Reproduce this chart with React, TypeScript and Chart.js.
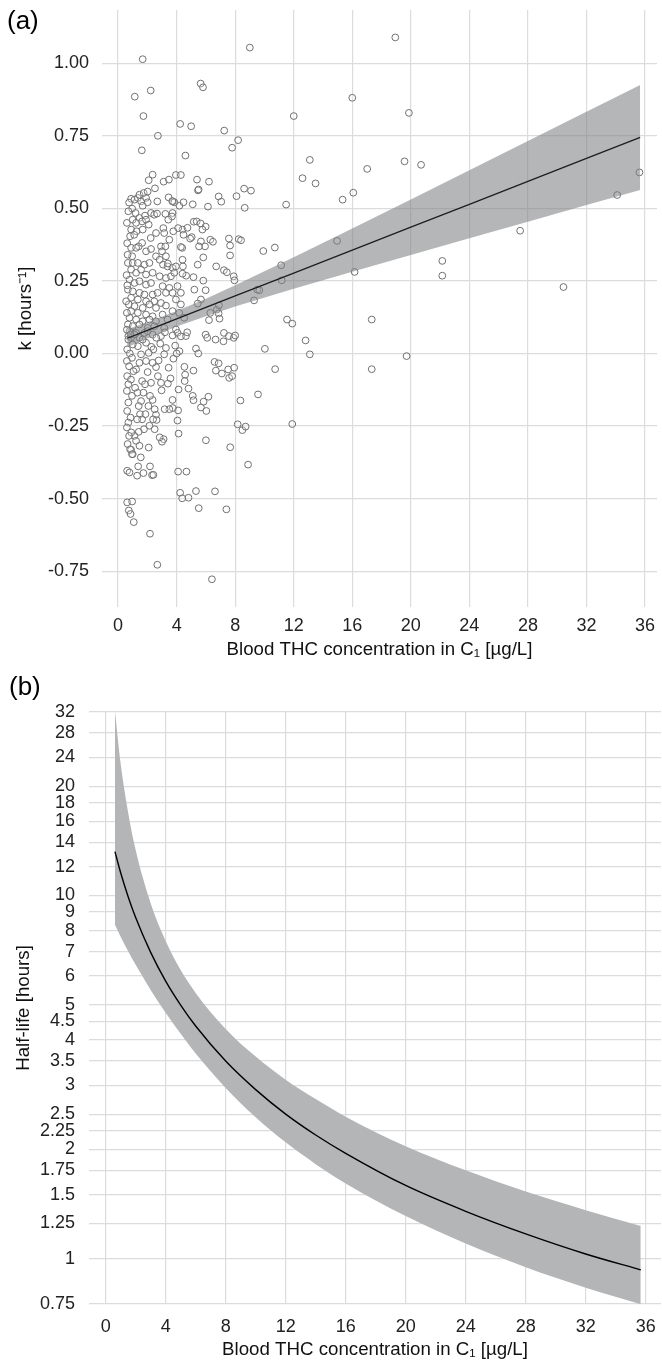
import React, { useEffect, useRef } from 'react';
import { Chart, registerables } from 'chart.js';

Chart.register(...registerables);

const FONT = "'Liberation Sans', Arial, Helvetica, sans-serif";

// ---------- shared axis ticks ----------
const xTicks = [0, 4, 8, 12, 16, 20, 24, 28, 32, 36];
const kTicks = [-0.75, -0.5, -0.25, 0, 0.25, 0.5, 0.75, 1.0];
const hlTicks = [0.75, 1, 1.25, 1.5, 1.75, 2, 2.25, 2.5, 3, 3.5, 4, 4.5, 5, 6, 7, 8, 9, 10, 12, 14, 16, 18, 20, 24, 28, 32];

// ---------- panel (a): observed k values [x, k] ----------
const kPoints: [number, number][] = [
  [18.94, 1.089], [16.0, 0.881], [19.87, 0.829], [17.02, 0.636], [19.57, 0.662], [20.7, 0.65], [16.07, 0.554],
  [15.34, 0.53], [14.96, 0.388], [16.16, 0.281], [22.15, 0.319], [22.15, 0.268], [27.47, 0.423], [30.43, 0.229],
  [34.1, 0.546], [35.62, 0.624], [17.33, 0.117], [17.33, -0.054], [19.71, -0.009],
  [1.68, 1.014], [9.0, 1.054], [1.14, 0.885], [2.23, 0.906], [1.73, 0.818], [5.64, 0.93], [5.8, 0.917], [12.0, 0.818],
  [2.72, 0.75], [1.62, 0.7], [4.24, 0.791], [4.99, 0.783], [7.25, 0.768], [8.2, 0.735], [7.79, 0.709], [4.6, 0.682],
  [13.1, 0.667], [12.6, 0.604], [13.49, 0.586], [11.48, 0.513], [2.36, 0.616], [2.09, 0.597], [2.52, 0.569],
  [3.11, 0.592], [3.47, 0.599], [3.95, 0.615], [4.29, 0.615], [5.39, 0.599], [6.21, 0.592], [5.46, 0.562],
  [5.5, 0.565], [6.87, 0.541], [7.05, 0.523], [8.09, 0.542], [8.61, 0.568], [9.08, 0.561], [8.65, 0.502],
  [6.14, 0.506], [3.45, 0.538], [3.74, 0.524], [4.19, 0.509], [4.47, 0.521], [5.1, 0.514], [9.92, 0.353],
  [10.71, 0.365], [11.14, 0.304], [11.18, 0.252], [9.29, 0.183], [9.51, 0.22], [9.65, 0.218], [7.9, 0.266],
  [7.95, 0.252], [7.57, 0.396], [7.65, 0.372], [7.65, 0.338], [8.24, 0.394], [8.4, 0.39], [6.7, 0.3], [7.23, 0.287],
  [7.43, 0.28], [11.54, 0.117], [11.9, 0.103], [6.3, 0.392], [6.48, 0.385], [5.17, 0.454], [5.37, 0.455],
  [5.64, 0.448], [5.98, 0.437], [5.76, 0.427], [5.66, 0.386], [5.94, 0.369], [5.53, 0.369], [5.82, 0.331],
  [5.44, 0.306], [5.15, 0.263], [5.82, 0.251], [5.03, 0.401], [4.4, 0.427], [4.1, 0.432], [4.74, 0.433],
  [4.47, 0.409], [4.38, 0.364], [4.4, 0.323], [4.43, 0.3], [4.65, 0.268], [5.21, 0.22], [5.98, 0.218],
  [5.66, 0.186], [5.44, 0.172], [6.3, 0.14], [6.75, 0.151], [6.87, 0.138], [6.89, 0.166], [6.93, 0.12],
  [6.21, 0.115], [3.77, 0.421], [3.72, 0.484], [3.68, 0.472], [3.84, 0.521], [3.7, 0.525],
  [0.89, 0.533], [1.12, 0.53], [1.35, 0.536], [1.57, 0.524], [1.91, 0.536], [0.96, 0.499], [1.68, 0.509],
  [2.02, 0.521], [2.68, 0.524], [1.19, 0.484], [1.46, 0.467], [1.84, 0.475], [2.25, 0.484], [2.47, 0.478],
  [1.0, 0.461], [1.23, 0.45], [1.64, 0.455], [1.91, 0.461], [2.09, 0.444], [0.89, 0.427], [1.26, 0.421],
  [1.68, 0.427], [0.82, 0.404], [1.1, 0.409], [2.23, 0.398], [2.59, 0.415], [1.41, 0.369], [1.64, 0.381],
  [0.89, 0.364], [1.23, 0.364], [1.91, 0.352], [2.25, 0.36], [2.93, 0.369], [2.59, 0.335], [0.96, 0.335],
  [0.67, 0.312], [1.0, 0.312], [1.35, 0.312], [1.8, 0.306], [2.14, 0.312], [2.84, 0.323], [3.07, 0.306],
  [3.38, 0.3], [3.72, 0.295], [3.95, 0.3], [0.89, 0.289], [1.23, 0.278], [1.57, 0.289], [1.91, 0.272],
  [2.36, 0.278], [2.84, 0.266], [3.27, 0.26], [3.61, 0.266], [3.84, 0.278], [4.4, 0.275], [0.78, 0.255],
  [1.12, 0.243], [1.46, 0.249], [1.91, 0.237], [2.25, 0.243], [3.04, 0.232], [3.5, 0.226], [4.06, 0.232],
  [0.67, 0.22], [1.0, 0.214], [1.46, 0.209], [1.8, 0.203], [2.36, 0.203], [2.7, 0.209], [3.27, 0.209],
  [3.72, 0.209], [4.29, 0.209], [0.89, 0.192], [1.35, 0.186], [1.91, 0.18], [2.47, 0.18], [2.93, 0.174],
  [3.95, 0.186], [0.73, 0.169], [1.12, 0.163], [1.68, 0.157], [2.14, 0.169], [2.59, 0.157], [3.27, 0.165],
  [4.29, 0.169], [0.89, 0.146], [1.35, 0.14], [1.91, 0.134], [2.36, 0.128], [3.04, 0.134], [3.72, 0.146],
  [4.17, 0.14], [0.78, 0.123], [1.23, 0.117], [1.68, 0.111], [2.14, 0.117], [2.59, 0.111], [3.38, 0.117],
  [4.51, 0.123], [0.67, 0.1], [1.0, 0.094], [1.46, 0.1], [2.02, 0.088], [2.47, 0.094], [3.15, 0.088],
  [3.95, 0.083], [0.78, 0.077], [1.23, 0.071], [1.8, 0.071], [2.36, 0.065], [2.93, 0.06], [0.89, 0.054],
  [1.46, 0.054], [4.63, 0.06], [4.06, 0.071], [5.98, 0.065], [7.23, 0.071], [7.57, 0.06], [7.9, 0.054],
  [6.66, 0.048], [2.66, 0.482], [3.23, 0.481], [3.43, 0.461], [3.09, 0.432], [3.15, 0.415], [3.5, 0.392],
  [3.23, 0.369], [3.0, 0.352], [3.27, 0.335], [3.4, 0.31], [4.29, 0.367], [4.92, 0.396], [1.46, 0.547],
  [1.75, 0.553], [2.02, 0.558],
  [0.6, 0.45], [0.62, 0.38], [0.58, 0.27], [0.55, 0.18], [0.6, 0.14], [0.7, 0.06], [0.63, 0.235], [0.65, 0.34],
  [0.7, 0.49], [0.75, 0.52],
  [4.1, -0.407], [4.67, -0.407], [4.24, -0.48], [4.38, -0.499], [4.81, -0.497], [5.32, -0.474], [5.51, -0.533],
  [6.62, -0.475], [7.4, -0.537], [6.41, -0.778], [2.68, -0.728], [2.18, -0.621], [1.07, -0.581], [0.62, -0.513],
  [0.96, -0.51], [0.73, -0.541], [0.85, -0.553], [0.62, -0.404], [0.78, -0.41], [1.3, -0.421], [1.37, -0.389],
  [1.73, -0.412], [2.18, -0.389], [2.32, -0.419], [2.41, -0.418], [2.09, -0.324], [1.55, -0.358], [1.0, -0.347],
  [0.89, -0.332], [6.0, -0.299], [7.66, -0.323], [8.88, -0.383], [8.17, -0.244], [8.49, -0.264], [8.71, -0.252],
  [11.9, -0.243], [9.56, -0.141], [8.36, -0.162], [4.13, -0.276], [4.06, -0.231], [4.1, -0.196], [4.13, -0.124],
  [4.53, -0.046], [4.58, -0.073], [4.55, -0.095], [4.81, -0.121], [5.15, -0.059], [5.1, -0.146], [5.15, -0.161],
  [5.66, -0.186], [5.84, -0.166], [6.03, -0.198], [6.17, -0.149], [5.32, 0.017], [5.48, 0.0], [6.09, 0.054],
  [6.59, -0.029], [6.87, -0.034], [6.68, -0.059], [7.09, -0.069], [7.52, -0.055], [7.59, -0.084], [7.79, -0.078],
  [7.93, -0.049], [7.2, 0.042], [8.0, 0.062], [10.03, 0.016], [10.73, -0.054], [12.81, 0.045], [13.1, -0.003],
  [3.9, 0.027], [3.72, 0.062], [4.29, 0.059], [4.72, 0.073], [4.19, 0.008], [4.0, 0.0], [3.78, -0.018],
  [3.45, -0.049], [3.58, -0.086], [3.4, -0.104], [3.72, -0.16], [3.74, -0.188], [3.5, -0.192], [3.18, -0.192],
  [3.11, -0.295], [3.0, -0.304], [2.84, -0.289], [2.63, -0.229], [2.59, -0.211], [2.5, -0.192], [2.36, -0.16],
  [2.18, -0.146], [2.97, -0.127], [2.93, -0.101], [2.72, -0.078], [2.59, -0.047], [2.77, -0.024], [3.15, -0.003],
  [3.27, 0.019], [2.88, 0.034], [2.61, 0.054], [3.2, 0.073], [2.27, 0.023], [1.91, 0.037], [1.91, -0.026],
  [2.02, -0.064], [1.64, -0.095], [1.84, -0.106], [1.73, -0.135], [1.57, -0.164], [1.41, -0.181], [1.5, -0.209],
  [1.64, -0.227], [1.3, -0.227], [1.77, -0.261], [1.41, -0.27], [1.12, -0.284], [1.46, -0.318], [1.23, -0.301],
  [1.32, -0.135], [1.16, -0.118], [1.23, -0.055], [1.46, -0.032], [1.57, -0.003], [1.35, 0.025], [1.68, 0.048],
  [1.12, 0.065], [2.02, 0.077], [2.41, 0.014], [2.09, 0.002], [2.36, -0.032], [2.25, -0.101], [2.07, -0.181],
  [1.87, -0.209], [2.39, -0.227], [2.14, -0.249], [2.5, -0.261],
  [0.6, 0.082], [0.85, 0.065], [0.7, 0.048], [1.0, 0.031], [0.62, 0.014], [0.8, 0.0], [0.95, -0.015], [0.6, -0.026],
  [0.75, -0.044], [1.05, -0.061], [0.62, -0.078], [0.88, -0.09], [0.7, -0.106], [0.6, -0.129], [0.95, -0.146],
  [0.7, -0.169], [0.62, -0.198], [0.85, -0.221], [0.7, -0.238], [0.6, -0.255], [0.9, -0.272], [0.75, -0.284],
  [0.65, -0.312], [0.82, -0.33], [0.95, -0.347],
];

// ---------- panel (a): regression line and confidence band ----------
const fitX = [0.62, 2, 4, 6, 8, 12, 16, 20, 24, 28, 32, 35.67];
const kFit = [0.0525, 0.0798, 0.1193, 0.1587, 0.1982, 0.2772, 0.3561, 0.4351, 0.5141, 0.593, 0.672, 0.7444];
const kLower = [0.0215, 0.052, 0.0926, 0.1287, 0.1617, 0.223, 0.2817, 0.3395, 0.3969, 0.4541, 0.5112, 0.5634];
const kUpper = [0.0835, 0.1076, 0.146, 0.1887, 0.2347, 0.3314, 0.4305, 0.5307, 0.6313, 0.7319, 0.8328, 0.9254];

// ---------- panel (b): half-life curve and band ----------
const hlX = [0.62, 1, 1.5, 2, 3, 4, 5, 6, 8, 10, 12, 14, 16, 20, 24, 28, 32, 35.67];
const hlFit = [13.2, 11.55, 9.92, 8.69, 6.97, 5.81, 4.99, 4.37, 3.5, 2.92, 2.5, 2.19, 1.95, 1.59, 1.35, 1.17, 1.03, 0.931];
const hlUpper = [32.2, 23.1, 16.9, 13.33, 9.52, 7.49, 6.23, 5.39, 4.29, 3.6, 3.11, 2.75, 2.46, 2.04, 1.75, 1.53, 1.36, 1.23];
const hlLower = [8.3, 7.7, 7.02, 6.44, 5.49, 4.75, 4.16, 3.67, 2.95, 2.45, 2.09, 1.82, 1.61, 1.31, 1.1, 0.947, 0.832, 0.749];

const X_TITLE = 'Blood THC concentration in C\u2081 [\u00b5g/L]';
const GRID = '#dcdcdc';
const TICK_COLOR = '#222222';
const TITLE_SIZE = 18.7;

const zeroPad = (s: any) => {
  s.paddingTop = 0;
  s.paddingBottom = 0;
  s.paddingLeft = 0;
  s.paddingRight = 0;
};

function PanelA() {
  const ref = useRef<HTMLCanvasElement | null>(null);
  useEffect(() => {
    if (!ref.current) return;
    const chart = new Chart(ref.current, {
      type: 'line',
      data: {
        datasets: [
          {
            label: 'k',
            data: kPoints.map(([x, y]) => ({ x, y })),
            showLine: false,
            pointRadius: 3.4,
            pointBorderWidth: 1,
            pointBorderColor: '#707070',
            pointBackgroundColor: 'rgba(255,255,255,0.25)',
            order: 3,
          },
          {
            label: 'lower',
            data: fitX.map((x, i) => ({ x, y: kLower[i] })),
            borderWidth: 0,
            borderColor: 'rgba(0,0,0,0)',
            pointRadius: 0,
            fill: false,
            order: 2,
          },
          {
            label: 'upper',
            data: fitX.map((x, i) => ({ x, y: kUpper[i] })),
            borderWidth: 0,
            borderColor: 'rgba(0,0,0,0)',
            backgroundColor: 'rgba(128,129,133,0.58)',
            pointRadius: 0,
            fill: 1,
            order: 2,
          },
          {
            label: 'fit',
            data: fitX.map((x, i) => ({ x, y: kFit[i] })),
            borderWidth: 1.3,
            borderColor: '#1e1e1e',
            pointRadius: 0,
            fill: false,
            order: 1,
          },
        ],
      },
      options: {
        animation: false,
        responsive: false,
        events: [],
        layout: { padding: { left: 0, right: 1, top: 10, bottom: 3 } },
        plugins: { legend: { display: false }, tooltip: { enabled: false } },
        scales: {
          x: {
            type: 'linear',
            min: -1.1,
            max: 36.82,
            afterBuildTicks: (s: any) => {
              s.ticks = xTicks.map((v) => ({ value: v }));
            },
            afterFit: (s: any) => {
              s.height = 60;
              zeroPad(s);
            },
            grid: { color: GRID, lineWidth: 1.2, drawTicks: false },
            border: { display: false },
            ticks: {
              autoSkip: false,
              maxRotation: 0,
              padding: 8,
              color: TICK_COLOR,
              font: { family: FONT, size: 18 },
              callback: (v: any) => String(v),
            },
            title: {
              display: true,
              text: X_TITLE,
              color: '#111',
              font: { family: FONT, size: TITLE_SIZE },
              padding: { top: 0, bottom: 6 },
            },
          },
          y: {
            type: 'linear',
            min: -0.8735,
            max: 1.1835,
            afterBuildTicks: (s: any) => {
              s.ticks = kTicks.map((v) => ({ value: v }));
            },
            afterFit: (s: any) => {
              s.width = 102;
              zeroPad(s);
            },
            grid: { color: GRID, lineWidth: 1.2, drawTicks: false },
            border: { display: false },
            ticks: {
              autoSkip: false,
              padding: 13,
              color: TICK_COLOR,
              font: { family: FONT, size: 18 },
              callback: (v: any) => Number(v).toFixed(2),
            },
            title: {
              display: true,
              text: 'k [hours\u207b\u00b9]',
              color: '#111',
              font: { family: FONT, size: TITLE_SIZE },
              padding: { top: 15, bottom: 0 },
            },
          },
        },
      },
    } as any);
    return () => chart.destroy();
  }, []);
  return <canvas ref={ref} width={662} height={670} style={{ display: 'block' }} />;
}

function PanelB() {
  const ref = useRef<HTMLCanvasElement | null>(null);
  useEffect(() => {
    if (!ref.current) return;
    const chart = new Chart(ref.current, {
      type: 'line',
      data: {
        datasets: [
          {
            label: 'lower',
            data: hlX.map((x, i) => ({ x, y: hlLower[i] })),
            borderWidth: 0,
            borderColor: 'rgba(0,0,0,0)',
            pointRadius: 0,
            fill: false,
            cubicInterpolationMode: 'monotone',
            order: 2,
          },
          {
            label: 'upper',
            data: hlX.map((x, i) => ({ x, y: hlUpper[i] })),
            borderWidth: 0,
            borderColor: 'rgba(0,0,0,0)',
            backgroundColor: '#b4b5b7',
            pointRadius: 0,
            fill: 0,
            cubicInterpolationMode: 'monotone',
            order: 2,
          },
          {
            label: 'half-life',
            data: hlX.map((x, i) => ({ x, y: hlFit[i] })),
            borderWidth: 1.4,
            borderColor: '#000000',
            pointRadius: 0,
            fill: false,
            cubicInterpolationMode: 'monotone',
            order: 1,
          },
        ],
      },
      options: {
        animation: false,
        responsive: false,
        events: [],
        layout: { padding: { left: 0, right: 1, top: 42, bottom: 1 } },
        plugins: { legend: { display: false }, tooltip: { enabled: false } },
        scales: {
          x: {
            type: 'linear',
            min: -1.11,
            max: 37.02,
            afterBuildTicks: (s: any) => {
              s.ticks = xTicks.map((v) => ({ value: v }));
            },
            afterFit: (s: any) => {
              s.height = 57;
              zeroPad(s);
            },
            grid: { color: GRID, lineWidth: 1.2, drawTicks: false },
            border: { display: false },
            ticks: {
              autoSkip: false,
              maxRotation: 0,
              padding: 12,
              color: TICK_COLOR,
              font: { family: FONT, size: 18 },
              callback: (v: any) => String(v),
            },
            title: {
              display: true,
              text: X_TITLE,
              color: '#111',
              font: { family: FONT, size: TITLE_SIZE },
              padding: { top: 0, bottom: 0 },
            },
          },
          y: {
            type: 'logarithmic',
            min: 0.75,
            max: 32,
            afterBuildTicks: (s: any) => {
              s.ticks = hlTicks.map((v) => ({ value: v }));
            },
            afterFit: (s: any) => {
              s.width = 89;
              zeroPad(s);
            },
            grid: { color: GRID, lineWidth: 1.2, drawTicks: false },
            border: { display: false },
            ticks: {
              autoSkip: false,
              padding: 14,
              color: TICK_COLOR,
              font: { family: FONT, size: 18 },
              callback: (v: any) => String(v),
            },
            title: {
              display: true,
              text: 'Half-life [hours]',
              color: '#111',
              font: { family: FONT, size: TITLE_SIZE },
              padding: { top: 13, bottom: 0 },
            },
          },
        },
      },
    } as any);
    return () => chart.destroy();
  }, []);
  return <canvas ref={ref} width={662} height={692} style={{ display: 'block' }} />;
}

export default function App() {
  const labelStyle: React.CSSProperties = {
    position: 'absolute',
    fontFamily: FONT,
    fontSize: 26,
    lineHeight: 1,
    color: '#000',
  };
  return (
    <div style={{ position: 'absolute', left: 0, top: 0, width: 662, height: 1362, background: '#fff' }}>
      <div style={{ position: 'absolute', left: 0, top: 0 }}>
        <PanelA />
      </div>
      <div style={{ position: 'absolute', left: 0, top: 670 }}>
        <PanelB />
      </div>
      <div style={{ ...labelStyle, left: 7, top: 7 }}>(a)</div>
      <div style={{ ...labelStyle, left: 9, top: 673 }}>(b)</div>
    </div>
  );
}
